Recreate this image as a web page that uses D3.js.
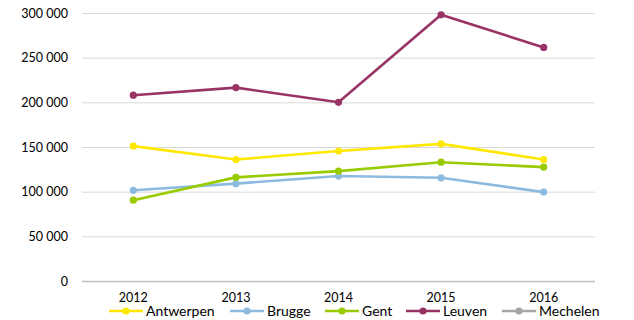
<!DOCTYPE html>
<html>
<head>
<meta charset="utf-8">
<script src="https://cdn.jsdelivr.net/npm/d3@7"></script>
<style>
  html, body { margin: 0; padding: 0; background: #fff; }
  svg { display: block; font-family: Lato, "Open Sans", sans-serif; }
</style>
</head>
<body>
<svg id="chart" width="634" height="320"></svg>
<script>
// Visitors per city, 2012–2016
const years = ["2012", "2013", "2014", "2015", "2016"];
const cities = ["Antwerpen", "Brugge", "Gent", "Leuven", "Mechelen"];
const colors = ["#FFE800", "#8DBBE0", "#99CC00", "#993366", "#A6A6A6"];
const antwerpen = [151000, 136000, 145500, 153500, 136000];
const brugge    = [101500, 109000, 117500, 115500, 99500];
const gent      = [90500, 116000, 123000, 133000, 127500];
const leuven    = [208000, 216500, 200000, 298000, 261500];
const mechelen  = [null, null, null, null, null];
const yTicks = [0, 50000, 100000, 150000, 200000, 250000, 300000];

const seriesValues = [antwerpen, brugge, gent, leuven, mechelen];
const series = cities.map((name, i) => ({ name, color: colors[i], values: seriesValues[i] }));

const svg = d3.select("#chart");
const plotLeft = 82, plotRight = 595, plotTop = 13, plotBottom = 281;

const x = d3.scaleBand().domain(years).range([plotLeft, plotRight]);
const y = d3.scaleLinear().domain([0, 300000]).range([plotBottom, plotTop]);
const fmt = v => d3.format(",")(v).replace(/,/g, " ");

// gridlines
svg.append("g").selectAll("line").data(yTicks.filter(d => d > 0)).join("line")
  .attr("x1", plotLeft).attr("x2", plotRight)
  .attr("y1", d => y(d) + 0.5).attr("y2", d => y(d) + 0.5)
  .attr("stroke", "#D9D9D9").attr("stroke-width", 1);

// y axis labels
const yAxis = d3.axisLeft(y).tickValues(yTicks).tickFormat(fmt).tickSize(0).tickPadding(14);
const gy = svg.append("g").attr("transform", `translate(${plotLeft},0)`).call(yAxis);
gy.select(".domain").remove();
gy.selectAll("text").attr("font-size", 12.5).attr("fill", "#000");

// baseline
svg.append("line").attr("x1", plotLeft).attr("x2", plotRight)
  .attr("y1", y(0) + 0.5).attr("y2", y(0) + 0.5)
  .attr("stroke", "#BFBFBF").attr("stroke-width", 1.5);

// x axis labels
const xAxis = d3.axisBottom(x).tickSize(0).tickPadding(12);
const gx = svg.append("g").attr("transform", `translate(0,${plotBottom})`).call(xAxis);
gx.select(".domain").remove();
gx.selectAll("text").attr("font-size", 12.5).attr("fill", "#000");
gy.attr("font-family", null); gx.attr("font-family", null);

const cx = d => x(d) + x.bandwidth() / 2;
const line = d3.line()
  .defined(d => d.v != null)
  .x(d => cx(d.year)).y(d => y(d.v));

const g = svg.append("g");
series.forEach(s => {
  const pts = s.values.map((v, i) => ({ year: years[i], v }));
  g.append("path").datum(pts)
    .attr("d", line).attr("fill", "none")
    .attr("stroke", s.color).attr("stroke-width", 2.6)
    .attr("stroke-linejoin", "round");
  g.selectAll(null).data(pts.filter(d => d.v != null)).join("circle")
    .attr("cx", d => cx(d.year)).attr("cy", d => y(d.v)).attr("r", 3.6)
    .attr("fill", s.color);
});

// legend
const legendX = [109, 230, 325, 406, 502];
const ly = 311;
const lg = svg.append("g");
series.forEach((s, i) => {
  const x0 = legendX[i];
  lg.append("line").attr("x1", x0).attr("x2", x0 + 34).attr("y1", ly).attr("y2", ly)
    .attr("stroke", s.color).attr("stroke-width", 2.6);
  lg.append("circle").attr("cx", x0 + 17).attr("cy", ly).attr("r", 3.6).attr("fill", s.color);
  lg.append("text").attr("x", x0 + 37).attr("y", ly + 5)
    .attr("font-size", 14).attr("fill", "#000").text(s.name);
});
</script>
</body>
</html>
